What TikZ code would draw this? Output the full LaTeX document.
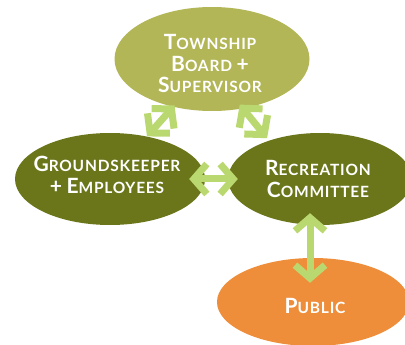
\documentclass[tikz,border=0pt]{standalone}
\usepackage{fontspec}
\setmainfont{Lato}[LetterSpace=5]
\usetikzlibrary{shapes.geometric,arrows.meta}
\definecolor{olivelight}{RGB}{178,182,86}
\definecolor{olivedark}{RGB}{107,118,26}
\definecolor{orangefill}{RGB}{238,142,58}
\definecolor{arrowgreen}{RGB}{186,216,112}
\newcommand\BC[1]{{\fontsize{21}{21.5}\selectfont #1}}
\begin{document}
\begin{tikzpicture}[x=1pt,y=-1pt,
  bubble/.style={ellipse,inner sep=0pt,draw=none},
  lbl/.style={text=white,align=center,font=\fontsize{15.5}{21.5}\selectfont\bfseries,inner sep=0pt},
  barbtip/.tip={Straight Barb[length=13pt,width=30pt,line width=7pt]},
  link/.style={draw=arrowgreen,line width=7pt,barbtip-barbtip}]
\useasboundingbox (0,0) rectangle (405,345);
\node[bubble,fill=olivelight,minimum width=195pt,minimum height=104pt] (T) at (212,59) {};
\node[bubble,fill=olivedark,minimum width=190pt,minimum height=92pt] (G) at (110,179) {};
\node[bubble,fill=olivedark,minimum width=184pt,minimum height=92pt] (R) at (320,179) {};
\node[bubble,fill=orangefill,minimum width=192pt,minimum height=88pt] (P) at (313,302) {};
\coordinate (Ptop) at ([xshift=-3pt]P.north);
\draw[link,shorten <=-2pt] (T.231) -- (G.49);
\draw[link,shorten <=-5pt,shorten >=3pt] (T.302) -- (R.143);
\draw[link,shorten <=-16pt,shorten >=-10pt] (G.east) -- (R.west);
\draw[link,shorten <=-12pt,shorten >=-25pt] (Ptop |- R.south) -- (Ptop);
\node[lbl] (Tt) at (210,63.5) {\BC{T}OWNSHIP\\\BC{B}OARD \BC{+}\\\BC{S}UPERVISOR};
\node[lbl] (Gt) at (107,175) {\BC{G}ROUNDSKEEPER\\\BC{+} \BC{E}MPLOYEES};
\node[lbl] (Rt) at (318,179) {\BC{R}ECREATION\\\BC{C}OMMITTEE};
\node[lbl] (Pt) at (315,305.5) {\BC{P}UBLIC};
\end{tikzpicture}
\end{document}
